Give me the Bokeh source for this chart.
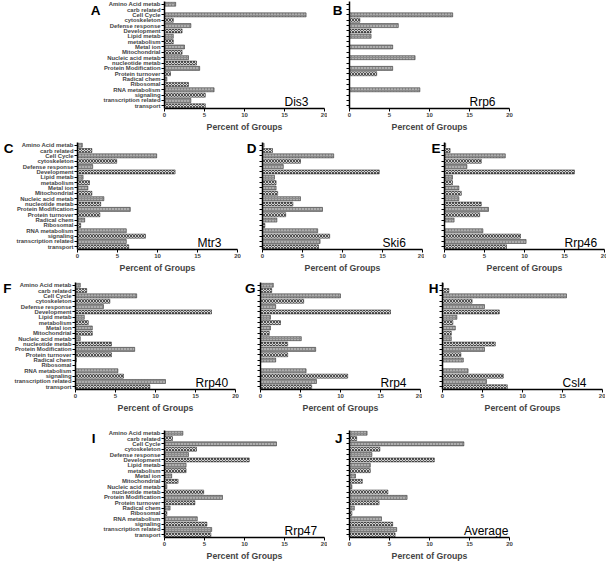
from bokeh.plotting import figure
from bokeh.layouts import column, row
from bokeh.models import Range1d, FixedTicker, Label, ColumnDataSource, LinearAxis
from bokeh.embed import file_html
from bokeh.resources import INLINE

categories = ["Amino Acid metab", "carb related", "Cell Cycle", "cytoskeleton",
              "Defense response", "Development", "Lipid metab", "metabolism",
              "Metal ion", "Mitochondrial", "Nucleic acid metab", "nucleotide metab",
              "Protein Modification", "Protein turnover", "Radical chem", "Ribosomal",
              "RNA metabolism", "signaling", "transcription related", "transport"]

dis3 = [1.4, 0, 17.7, 1.1, 3.3, 2.2, 1.1, 1.1, 2.5, 2.2, 3.0, 4.0, 4.4, 0.75, 0.3, 3.0, 6.2, 5.1, 3.3, 5.1]
rrp6 = [0, 0, 12.9, 1.3, 6.1, 2.7, 2.7, 0, 5.4, 0, 8.2, 0, 5.4, 3.4, 0, 0, 8.8, 0, 0, 0]
mtr3 = [0.6, 1.8, 9.9, 4.9, 1.9, 12.2, 0.7, 1.5, 1.3, 1.8, 3.3, 2.9, 6.6, 2.8, 0.9, 0.4, 6.1, 8.5, 6.1, 6.4]
ski6 = [0.2, 1.25, 8.9, 4.75, 2.6, 14.6, 1.5, 1.7, 1.7, 1.9, 4.75, 3.8, 7.5, 2.9, 1.8, 0.3, 6.9, 8.4, 7.2, 7.0]
rrp46 = [0.15, 0.7, 7.6, 4.6, 2.8, 16.25, 1.0, 1.0, 1.8, 2.1, 1.8, 4.6, 5.5, 4.4, 1.2, 0, 4.8, 9.5, 10.2, 7.75]
rrp40 = [0.6, 1.4, 7.65, 4.3, 3.5, 17.0, 1.1, 1.6, 2.1, 2.1, 0.6, 4.5, 7.4, 4.5, 0.1, 0, 5.3, 6.0, 11.25, 9.3]
rrp4 = [1.6, 1.4, 10.0, 5.4, 1.9, 16.25, 1.25, 2.5, 1.25, 1.1, 5.1, 3.4, 6.9, 3.4, 1.9, 0, 5.7, 10.9, 7.0, 6.4]
csl4 = [0.1, 0.8, 15.5, 3.7, 5.25, 7.1, 1.8, 1.3, 1.6, 1.1, 1.1, 6.6, 5.25, 2.3, 2.6, 0, 3.2, 7.6, 5.5, 8.1]
rrp47 = [2.3, 1.0, 14.0, 4.0, 3.0, 10.6, 2.7, 2.7, 0.9, 1.7, 0.3, 4.9, 7.25, 3.8, 0.7, 0.3, 4.1, 5.3, 5.9, 5.8]
average = [2.2, 0.9, 14.3, 3.8, 2.8, 10.6, 2.6, 2.6, 0.75, 1.6, 0.3, 4.8, 7.2, 3.7, 0.6, 0.3, 4.0, 5.4, 5.9, 5.7]

x_ticks = [0, 5, 10, 15, 20]
axis_title = "Percent of Groups"

FONT = "Liberation Sans"


def make_panel(values, letter, name, show_labels, left, right, top, bottom,
               frame_h, letter_y, letter_standoff, name_x=15):
    p = figure(frame_width=160, frame_height=frame_h,
               x_range=Range1d(0, 20), y_range=Range1d(19.5, -0.5),
               min_border_left=left, min_border_right=right,
               min_border_top=top, min_border_bottom=bottom,
               output_backend="svg", toolbar_location=None, tools="", title=None)
    p.grid.visible = False
    p.outline_line_color = None
    p.background_fill_color = "white"
    p.border_fill_color = "white"

    n = len(categories)
    src = ColumnDataSource(dict(
        y=list(range(n)),
        v=values,
        fill=["#8c8c8c" if i % 2 == 0 else "#d4d4d4" for i in range(n)],
        hc=["#e0e0e0" if i % 2 == 0 else "#303030" for i in range(n)],
        pat=["dot" if i % 2 == 0 else "diagonal_cross" for i in range(n)],
    ))
    p.hbar(y="y", right="v", left=0, height=0.75, source=src,
           fill_color="fill", hatch_pattern="pat", hatch_color="hc",
           hatch_scale=3, hatch_weight=0.8,
           line_color="#222222", line_width=0.5)

    xa = p.xaxis[0]
    xa.ticker = FixedTicker(ticks=x_ticks)
    xa.major_tick_out = 3
    xa.major_tick_in = 0
    xa.minor_tick_out = 0
    xa.minor_tick_in = 0
    xa.axis_line_width = 1.5
    xa.major_tick_line_width = 1
    xa.major_label_text_font = FONT
    xa.major_label_text_font_size = "6px"
    xa.major_label_text_font_style = "bold"
    xa.major_label_standoff = 1
    xa.axis_label = axis_title
    xa.axis_label_text_font = FONT
    xa.axis_label_text_font_size = "8.7px"
    xa.axis_label_text_font_style = "bold"
    xa.axis_label_standoff = 2

    ya = p.yaxis[0]
    ya.ticker = FixedTicker(ticks=list(range(n)))
    if show_labels:
        ya.major_label_overrides = {i: c for i, c in enumerate(categories)}
    else:
        ya.major_label_overrides = {i: "" for i in range(n)}
    ya.major_tick_out = 3
    ya.major_tick_in = 0
    ya.minor_tick_out = 0
    ya.minor_tick_in = 0
    ya.axis_line_width = 1.5
    ya.major_label_text_font = FONT
    ya.major_label_text_font_size = "5.9px"
    ya.major_label_text_font_style = "bold"
    ya.major_label_standoff = 1

    # panel letter drawn as the single label of an extra, line-less left axis
    la = LinearAxis(ticker=FixedTicker(ticks=[letter_y]),
                    major_label_overrides={letter_y: letter})
    la.axis_line_color = None
    la.major_tick_line_color = None
    la.minor_tick_line_color = None
    la.major_tick_out = 0
    la.major_tick_in = 0
    la.minor_tick_out = 0
    la.minor_tick_in = 0
    la.major_label_standoff = letter_standoff
    la.major_label_text_font = FONT
    la.major_label_text_font_size = "13.5px"
    la.major_label_text_font_style = "bold"
    la.major_label_text_color = "black"
    p.add_layout(la, "left")

    p.add_layout(Label(x=name_x, y=19.5, text=name, text_font=FONT,
                       text_font_size="12px", text_baseline="bottom",
                       text_align="left", text_color="black"))
    return p


pA = make_panel(dis3, "A", "Dis3", True, 164, 3, 1, 27, 107, 1.1, 0)
pB = make_panel(rrp6, "B", "Rrp6", False, 22, 10, 1, 27, 107, 1.1, 4)
pC = make_panel(mtr3, "C", "Mtr3", True, 72, 4, 7, 26, 107, 0.6, 0)
pD = make_panel(ski6, "D", "Ski6", False, 21, 2, 7, 26, 107, 0.6, 3)
pE = make_panel(rrp46, "E", "Rrp46", False, 20, 3, 7, 26, 107, 0.6, 1)
pF = make_panel(rrp40, "F", "Rrp40", True, 72, 4, 7, 26, 107, 0.6, 0)
pG = make_panel(rrp4, "G", "Rrp4", False, 21, 2, 7, 26, 107, 0.6, 2)
pH = make_panel(csl4, "H", "Csl4", False, 20, 3, 7, 26, 107, 0.6, 1)
pI = make_panel(rrp47, "I", "Rrp47", True, 164, 3, 15, 25, 107, 1.0, 5)
pJ = make_panel(average, "J", "Average", False, 22, 10, 15, 25, 107, 1.0, 4, name_x=14.3)

layout = column(row(pA, pB), row(pC, pD, pE), row(pF, pG, pH), row(pI, pJ))

open("out.html", "w").write(file_html(layout, INLINE))
